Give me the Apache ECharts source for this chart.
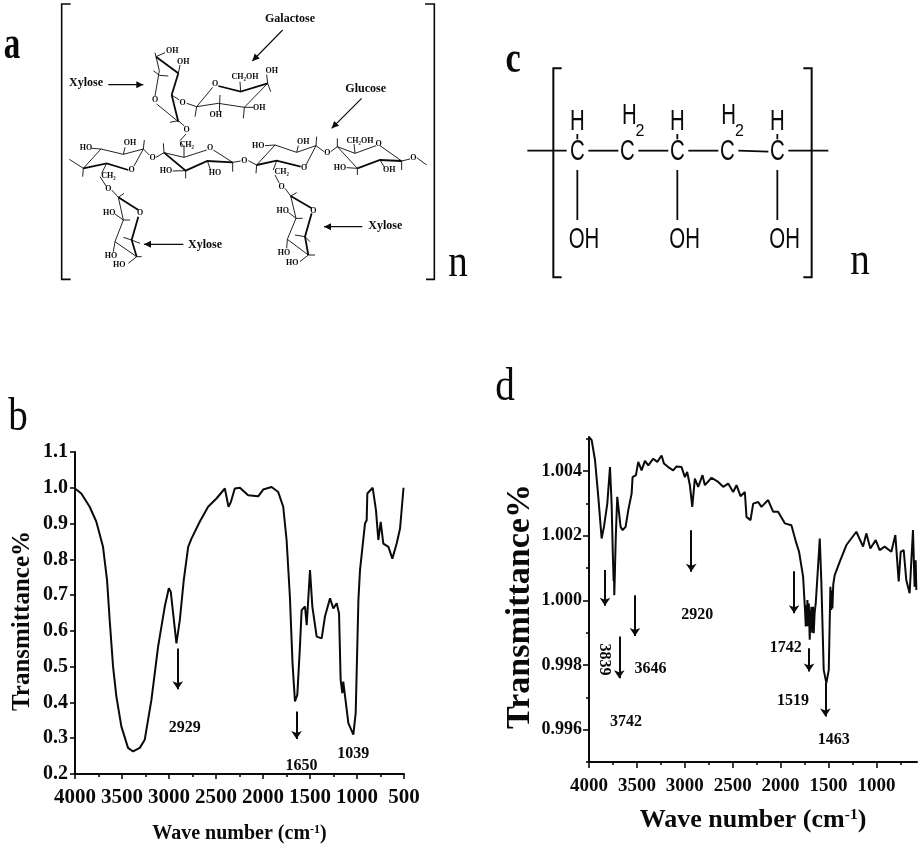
<!DOCTYPE html>
<html>
<head>
<meta charset="utf-8">
<style>
  html, body { margin: 0; padding: 0; background: #ffffff; }
  #chart { width: 921px; height: 850px; }
</style>
</head>
<body>
<div id="chart"></div>
<script src="https://cdn.jsdelivr.net/npm/echarts@6/dist/echarts.min.js"></script>
<script>
const SERIF = '"Liberation Serif", serif'
const SANS = '"Liberation Sans", sans-serif'
const INK = '#0a0a0a'

// panel b spectrum
const wavenumberB = [4000, 3933, 3844, 3773, 3702, 3659, 3631, 3595, 3560, 3507, 3436, 3382, 3311, 3258, 3187, 3116, 3045, 3002, 2981, 2956, 2921, 2885, 2843, 2796, 2761, 2673, 2584, 2495, 2406, 2388, 2367, 2342, 2300, 2246, 2158, 2051, 1998, 1909, 1838, 1785, 1749, 1714, 1686, 1660, 1635, 1607, 1589, 1553, 1535, 1500, 1475, 1429, 1376, 1341, 1287, 1252, 1216, 1191, 1174, 1156, 1146, 1092, 1039, 1014, 985, 968, 950, 915, 897, 890, 833, 798, 773, 748, 720, 666, 624, 578, 542, 505]
const transmittanceB = [0.998, 0.984, 0.947, 0.905, 0.835, 0.742, 0.63, 0.5, 0.417, 0.333, 0.273, 0.263, 0.273, 0.296, 0.407, 0.556, 0.668, 0.719, 0.709, 0.649, 0.565, 0.63, 0.742, 0.835, 0.858, 0.905, 0.947, 0.97, 0.998, 1.002, 0.947, 0.96, 0.998, 1.0, 0.979, 0.976, 0.995, 1.002, 0.988, 0.947, 0.854, 0.696, 0.51, 0.403, 0.421, 0.556, 0.658, 0.668, 0.616, 0.77, 0.668, 0.584, 0.579, 0.64, 0.691, 0.663, 0.677, 0.649, 0.463, 0.426, 0.458, 0.342, 0.31, 0.37, 0.686, 0.77, 0.775, 0.9, 0.909, 0.984, 1.0, 0.937, 0.854, 0.905, 0.844, 0.835, 0.802, 0.844, 0.886, 1.0]

// panel d spectrum
const wavenumberD = [4000, 3972, 3937, 3903, 3868, 3844, 3809, 3781, 3764, 3750, 3743, 3740, 3736, 3732, 3727, 3720, 3705, 3687, 3670, 3649, 3618, 3590, 3555, 3545, 3510, 3486, 3451, 3416, 3381, 3329, 3287, 3242, 3218, 3173, 3121, 3086, 3034, 2999, 2975, 2947, 2922, 2895, 2860, 2815, 2790, 2721, 2651, 2599, 2547, 2495, 2460, 2418, 2373, 2356, 2314, 2286, 2234, 2200, 2130, 2078, 2026, 1956, 1887, 1835, 1807, 1765, 1745, 1737, 1730, 1725, 1720, 1712, 1705, 1696, 1690, 1678, 1670, 1662, 1654, 1645, 1633, 1609, 1591, 1574, 1550, 1522, 1497, 1480, 1472, 1466, 1459, 1450, 1435, 1383, 1313, 1209, 1139, 1105, 1063, 1007, 966, 914, 844, 802, 767, 746, 715, 688, 653, 618, 601, 590, 583]
const transmittanceD = [1.00505, 1.00495, 1.00433, 1.0032, 1.00191, 1.00227, 1.00299, 1.00412, 1.00299, 1.0013, 1.0006, 1.0011, 1.00016, 1.0006, 1.0012, 1.002, 1.0032, 1.00325, 1.00227, 1.00217, 1.00227, 1.00279, 1.0033, 1.00381, 1.00387, 1.00428, 1.00402, 1.00431, 1.00417, 1.00438, 1.00428, 1.00448, 1.00423, 1.00412, 1.00402, 1.00414, 1.00412, 1.00381, 1.00397, 1.00356, 1.00289, 1.00376, 1.00351, 1.00387, 1.00356, 1.00379, 1.00366, 1.00351, 1.00361, 1.00335, 1.00356, 1.00322, 1.00335, 1.00258, 1.00248, 1.00299, 1.00304, 1.00289, 1.0031, 1.00274, 1.00274, 1.00238, 1.00232, 1.00176, 1.0015, 1.00073, 0.9997, 0.99919, 0.99985, 0.9992, 1.00001, 0.9992, 0.9999, 0.99878, 0.9993, 0.9998, 0.999, 0.9998, 0.99898, 0.9996, 0.99991, 1.00104, 1.00191, 1.00052, 0.99785, 0.99744, 0.99785, 1.00042, 0.9997, 1.0003, 0.99975, 1.0005, 1.00078, 1.00119, 1.00171, 1.00212, 1.00166, 1.00207, 1.0016, 1.00186, 1.00155, 1.00166, 1.0015, 1.00202, 1.00058, 1.0015, 1.00155, 1.00063, 1.00022, 1.00217, 1.00042, 1.00124, 1.00032]

// peak labels: text, wavenumber, value
const peakTextB = ['2929', '1650', '1039']
const peakXB = [2832, 1590, 1039]
const peakYB = [0.328, 0.223, 0.257]
const peakTextD = ['2920', '1742', '1519', '1463', '3646', '3742', '3839']
const peakXD = [2870, 1946, 1870, 1445, 3357, 3614, 3844]
const peakYD = [0.99955, 0.99854, 0.9969, 0.99569, 0.99788, 0.99625, 0.99817]

// arrows: wavenumber, from value, to value
const arrowXB = [2907, 1643]
const arrowFromB = [0.551, 0.375]
const arrowToB = [0.437, 0.298]
const arrowXD = [3833, 3684, 3520, 2933, 1859, 1702, 1532]
const arrowFromD = [1.00094, 0.99888, 1.00016, 1.00217, 1.0009, 0.99852, 0.99744]
const arrowToD = [0.99983, 0.99759, 0.9989, 1.00088, 0.9996, 0.9978, 0.99641]

const majorXB = [4000, 3500, 3000, 2500, 2000, 1500, 1000, 500]
const minorXB = [3750, 3250, 2750, 2250, 1750, 1250, 750]
const majorXD = [4000, 3500, 3000, 2500, 2000, 1500, 1000]
const minorXD = [3750, 3250, 2750, 2250, 1750, 1250, 750]
const majorYD = [0.996, 0.998, 1.0, 1.002, 1.004]
const minorYD = [0.995, 0.997, 0.999, 1.001, 1.003, 1.005]

// structure a, traced at 3x from the panel corner
const bracketsA = [
  [[212, 12], [185, 12], [185, 838], [212, 838]],
  [[1275, 12], [1303, 12], [1303, 838], [1278, 838]]
]
const bondsA = [
  // upper xylose
  [[468, 170], [478, 212], [465, 288]], [[470, 312], [535, 365]], [[495, 158], [468, 170], [465, 158]],
  [[535, 220], [540, 195]], [[460, 212], [478, 226], [505, 228]], [[515, 285], [538, 300]],
  [[510, 367], [535, 362], [553, 378]],
  // galactose
  [[638, 262], [590, 320], [655, 310], [733, 322], [803, 250]], [[722, 275], [720, 245]], [[803, 250], [800, 224]],
  [[803, 250], [812, 275]], [[733, 322], [730, 355]], [[733, 322], [760, 322]], [[660, 285], [658, 335]],
  [[590, 320], [585, 350]], [[590, 320], [560, 310]],
  // chain rings
  [[208, 478], [250, 505], [303, 447], [370, 463], [430, 447], [402, 498]], [[275, 445], [303, 447]],
  [[375, 442], [370, 463]], [[430, 447], [433, 420]], [[430, 447], [448, 465]], [[250, 505], [248, 530]],
  [[320, 490], [305, 520]], [[300, 530], [318, 558]],
  [[468, 472], [492, 458], [552, 472], [620, 450]], [[640, 450], [698, 487]], [[492, 458], [490, 430]],
  [[552, 472], [552, 440], [540, 425]], [[558, 402], [540, 422]], [[698, 487], [722, 483]], [[698, 487], [698, 515]],
  [[518, 513], [557, 512], [557, 535]], [[622, 483], [632, 510]],
  [[745, 482], [770, 495], [825, 435], [890, 457], [948, 437], [918, 495]], [[795, 437], [825, 435]],
  [[895, 437], [890, 457]], [[948, 437], [950, 410]], [[948, 437], [972, 455]], [[770, 495], [768, 520]],
  [[830, 482], [820, 510]], [[825, 525], [838, 550]],
  [[992, 455], [1012, 440], [1065, 460], [1128, 437]], [[1140, 437], [1205, 483]], [[1012, 440], [1012, 415]],
  [[1065, 460], [1062, 432]], [[1205, 483], [1230, 477]], [[1250, 473], [1280, 495]], [[1205, 483], [1205, 510]],
  [[1072, 505], [1072, 525]], [[1040, 503], [1072, 505]], [[1140, 480], [1155, 505]], [[1012, 440], [1072, 505]],
  // lower xylose rings
  [[335, 570], [355, 592], [370, 660], [345, 725], [410, 770]], [[355, 592], [372, 580]], [[370, 660], [345, 642]],
  [[345, 725], [340, 755]], [[395, 720], [370, 712]], [[410, 770], [385, 790]], [[410, 770], [425, 770]],
  [[370, 660], [390, 660]], [[395, 720], [420, 730]],
  [[855, 565], [872, 588], [888, 655], [862, 718], [925, 765]], [[872, 588], [890, 578]], [[888, 655], [865, 637]],
  [[862, 718], [860, 745]], [[915, 710], [885, 705]], [[915, 710], [930, 725]], [[925, 765], [900, 785]],
  [[925, 765], [945, 765]], [[888, 655], [908, 655]]
]
const wedgesA = [
  [[535, 220], [468, 170]], [[515, 285], [535, 220]], [[535, 365], [515, 285]],
  [[655, 258], [722, 275], [803, 250]],
  [[250, 505], [320, 490], [385, 510]],
  [[492, 458], [557, 512], [622, 483], [698, 487]],
  [[770, 495], [830, 482], [902, 500]],
  [[1072, 505], [1140, 480], [1205, 483]],
  [[355, 592], [415, 630]], [[415, 650], [395, 720], [410, 770]],
  [[872, 588], [935, 625]], [[935, 640], [915, 710], [925, 765]]
]
const arrowsA = [
  [[325, 254], [430, 254]], [[848, 90], [757, 183]], [[1085, 295], [995, 385]],
  [[1087, 680], [972, 680]], [[550, 733], [432, 733]]
]
const namesA = [
  ['Xylose', 258, 250], ['Galactose', 870, 57], ['Glucose', 1097, 268], ['Xylose', 1156, 678], ['Xylose', 615, 735]
]
const atomsA = [
  ['OH', 517, 152], ['OH', 550, 185], ['O', 465, 300], ['O', 548, 308], ['O', 560, 390], ['O', 645, 253],
  ['CH₂OH', 735, 232], ['OH', 815, 212], ['OH', 778, 323], ['OH', 647, 346],
  ['HO', 258, 445], ['OH', 390, 430], ['O', 395, 510], ['O', 458, 475], ['CH₂', 325, 527], ['O', 325, 567],
  ['CH₂', 560, 435], ['O', 630, 445], ['O', 733, 482], ['HO', 498, 513], ['HO', 645, 520],
  ['HO', 775, 437], ['OH', 910, 425], ['O', 912, 503], ['O', 982, 460], ['CH₂', 845, 517], ['O', 845, 560],
  ['CH₂OH', 1080, 422], ['O', 1136, 432], ['O', 1240, 473], ['HO', 1020, 503], ['OH', 1168, 510],
  ['HO', 328, 640], ['O', 420, 638], ['HO', 333, 768], ['HO', 358, 795],
  ['HO', 848, 632], ['O', 940, 632], ['HO', 852, 760], ['HO', 877, 790]
]

// structure c, traced at 3x from (490, 30)
const bracketsC = [
  [[215, 115], [190, 115], [190, 742], [215, 742]],
  [[940, 115], [965, 115], [965, 742], [940, 742]]
]
const bondsC = [
  [[112, 362], [230, 362]], [[295, 362], [385, 362]], [[445, 362], [535, 362]], [[595, 362], [685, 362]],
  [[745, 362], [835, 365]], [[895, 362], [1015, 362]],
  [[262, 312], [262, 328]], [[562, 312], [562, 328]], [[862, 312], [862, 328]],
  [[262, 420], [262, 570]], [[562, 420], [562, 570]], [[862, 420], [862, 570]]
]
const atomsC = [
  ['C', 262, 365], ['C', 412, 365], ['C', 562, 365], ['C', 712, 365], ['C', 862, 365],
  ['H', 262, 275], ['H', 562, 275], ['H', 862, 275], ['H', 418, 258], ['H', 716, 258],
  ['OH', 282, 628], ['OH', 584, 628], ['OH', 884, 628]
]
const subscriptC = [['2', 450, 305], ['2', 748, 305]]

const panelLetters = [
  ['a', 12, 46, 'bold 46px', 0.72], ['b', 18, 418, '46px', 0.85], ['c', 513, 61, 'bold 44px', 0.78],
  ['d', 505, 388, '46px', 0.85], ['n', 458, 264, '46px', 0.85], ['n', 860, 262, '46px', 0.85]
]

function toPoints(points, originX, originY) {
  return points.map(p => [originX + p[0] / 3, originY + p[1] / 3])
}

function lineElement(points, width, originX, originY) {
  return {
    type: 'polyline',
    silent: true,
    shape: { points: toPoints(points, originX, originY) },
    style: { stroke: INK, lineWidth: width, fill: 'none' }
  }
}

function textElement(text, x, y, font, scaleX) {
  return {
    type: 'text',
    silent: true,
    x,
    y,
    scaleX: scaleX || 1,
    style: { text, x: 0, y: 0, font, fill: INK, textAlign: 'center', textVerticalAlign: 'middle' }
  }
}

function arrowHead(line) {
  const from = line[0]
  const to = line[1]
  const angle = Math.atan2(to[1] - from[1], to[0] - from[0])
  const size = 3.5
  const tip = [to[0] / 3, to[1] / 3]
  return {
    type: 'polygon',
    silent: true,
    shape: {
      points: [
        tip,
        [tip[0] - size * 2 * Math.cos(angle) - size * Math.sin(angle), tip[1] - size * 2 * Math.sin(angle) + size * Math.cos(angle)],
        [tip[0] - size * 2 * Math.cos(angle) + size * Math.sin(angle), tip[1] - size * 2 * Math.sin(angle) - size * Math.cos(angle)]
      ]
    },
    style: { fill: INK }
  }
}

function buildGraphics() {
  const elements = []
  bracketsA.forEach(b => elements.push(lineElement(b, 1.6, 0, 0)))
  bondsA.forEach(b => elements.push(lineElement(b, 0.9, 0, 0)))
  wedgesA.forEach(b => elements.push(lineElement(b, 1.8, 0, 0)))
  arrowsA.forEach(a => {
    elements.push(lineElement(a, 1.1, 0, 0))
    elements.push(arrowHead(a))
  })
  namesA.forEach(n => elements.push(textElement(n[0], n[1] / 3, n[2] / 3, `bold 12px ${SERIF}`)))
  atomsA.forEach(n => elements.push(textElement(n[0], n[1] / 3, n[2] / 3, `bold 8px ${SERIF}`)))

  bracketsC.forEach(b => elements.push(lineElement(b, 2, 490, 30)))
  bondsC.forEach(b => elements.push(lineElement(b, 1.8, 490, 30)))
  atomsC.forEach(n => elements.push(textElement(n[0], 490 + n[1] / 3, 30 + n[2] / 3, `30px ${SANS}`, 0.68)))
  subscriptC.forEach(n => elements.push(textElement(n[0], 490 + n[1] / 3, 30 + n[2] / 3, `16px ${SANS}`)))

  panelLetters.forEach(n => elements.push(textElement(n[0], n[1], n[2], `${n[3]} ${SERIF}`, n[4])))
  return elements
}

function peakData(texts, xs, ys) {
  return texts.map((text, i) => ({
    value: [xs[i], ys[i]],
    label: { formatter: text, rotate: text === '3839' ? -90 : 0 }
  }))
}

function arrowData(xs, from, to) {
  return xs.map((x, i) => [{ coord: [x, from[i]] }, { coord: [x, to[i]] }])
}

function spectrumSeries(index, xs, ys, arrowX, arrowFrom, arrowTo, width) {
  return {
    type: 'line',
    xAxisIndex: index.x,
    yAxisIndex: index.y,
    data: xs.map((x, i) => [x, ys[i]]),
    showSymbol: false,
    symbol: 'none',
    smooth: false,
    silent: true,
    lineStyle: { color: INK, width },
    markLine: {
      silent: true,
      animation: false,
      symbol: ['none', 'arrow'],
      symbolSize: 8,
      label: { show: false },
      lineStyle: { color: INK, type: 'solid', width: 2 },
      data: arrowData(arrowX, arrowFrom, arrowTo)
    }
  }
}

function peakSeries(index, texts, xs, ys, fontSize) {
  return {
    type: 'scatter',
    xAxisIndex: index.x,
    yAxisIndex: index.y,
    symbolSize: 0,
    silent: true,
    itemStyle: { opacity: 1 },
    data: peakData(texts, xs, ys),
    label: {
      show: true,
      position: 'inside',
      color: INK,
      fontFamily: SERIF,
      fontWeight: 'bold',
      fontSize
    }
  }
}

const axisBase = {
  type: 'value',
  splitLine: { show: false },
  axisLine: { show: true, onZero: false, lineStyle: { color: INK, width: 2 } },
  axisTick: { show: true, inside: false, length: 5, lineStyle: { color: INK, width: 1.6 } }
}

function waveName(size) {
  return {
    name: '{a|Wave number (cm}{s|-1}{a|)}',
    nameLocation: 'middle',
    nameTextStyle: {
      rich: {
        a: { fontFamily: SERIF, fontWeight: 'bold', fontSize: size, color: INK },
        s: { fontFamily: SERIF, fontWeight: 'bold', fontSize: size * 0.6, color: INK, verticalAlign: 'top', padding: [0, 0, size * 0.4, 0] }
      }
    }
  }
}

function transmittanceName(size, gap, shift) {
  return {
    name: 'Transmittance%',
    nameLocation: 'middle',
    nameGap: gap,
    nameTextStyle: { fontFamily: SERIF, fontWeight: 'bold', fontSize: size, color: INK, padding: [0, shift, 0, 0] }
  }
}

const labelStyle = size => ({ fontFamily: SERIF, fontWeight: 'bold', fontSize: size, color: INK })

// a second axis on the same scale carries the shorter in-between ticks
function minorAxis(gridIndex, position, min, max, inverse, values) {
  return {
    ...axisBase,
    gridIndex,
    position,
    min,
    max,
    inverse,
    axisLine: { show: false },
    axisTick: { ...axisBase.axisTick, length: 3, customValues: values },
    axisLabel: { show: false }
  }
}

const chart = echarts.init(document.getElementById('chart'), null, { renderer: 'canvas' })

chart.setOption({
  animation: false,
  backgroundColor: '#ffffff',
  graphic: buildGraphics(),
  grid: [
    { left: 75, top: 452, width: 329, height: 322 },
    { left: 589, top: 437, width: 328, height: 325 }
  ],
  xAxis: [
    {
      ...axisBase,
      ...waveName(20),
      nameGap: 50,
      gridIndex: 0,
      position: 'bottom',
      inverse: true,
      min: 500,
      max: 4000,
      axisTick: { ...axisBase.axisTick, length: 5, customValues: majorXB },
      axisLabel: { ...labelStyle(21), margin: 13, customValues: majorXB, formatter: v => String(v) }
    },
    {
      ...axisBase,
      ...waveName(26),
      nameGap: 45,
      gridIndex: 1,
      position: 'bottom',
      inverse: true,
      min: 576,
      max: 4000,
      axisTick: { ...axisBase.axisTick, length: 6, customValues: majorXD },
      axisLabel: { ...labelStyle(19), margin: 15, customValues: majorXD, formatter: v => String(v) }
    },
    minorAxis(0, 'bottom', 500, 4000, true, minorXB),
    minorAxis(1, 'bottom', 576, 4000, true, minorXD)
  ],
  yAxis: [
    {
      ...axisBase,
      ...transmittanceName(25, 40, 16),
      gridIndex: 0,
      position: 'left',
      min: 0.2,
      max: 1.1,
      interval: 0.1,
      axisLabel: { ...labelStyle(20), margin: 7, formatter: v => v.toFixed(1) }
    },
    {
      ...axisBase,
      ...transmittanceName(34, 48, 14),
      gridIndex: 1,
      position: 'left',
      min: 0.995,
      max: 1.00505,
      axisTick: { ...axisBase.axisTick, length: 6, customValues: majorYD },
      axisLabel: { ...labelStyle(18), margin: 7, customValues: majorYD, formatter: v => v.toFixed(3) }
    },
    minorAxis(1, 'left', 0.995, 1.00505, false, minorYD)
  ],
  series: [
    spectrumSeries({ x: 0, y: 0 }, wavenumberB, transmittanceB, arrowXB, arrowFromB, arrowToB, 2),
    peakSeries({ x: 0, y: 0 }, peakTextB, peakXB, peakYB, 16),
    spectrumSeries({ x: 1, y: 1 }, wavenumberD, transmittanceD, arrowXD, arrowFromD, arrowToD, 2),
    peakSeries({ x: 1, y: 1 }, peakTextD, peakXD, peakYD, 16)
  ]
})
</script>
</body>
</html>
